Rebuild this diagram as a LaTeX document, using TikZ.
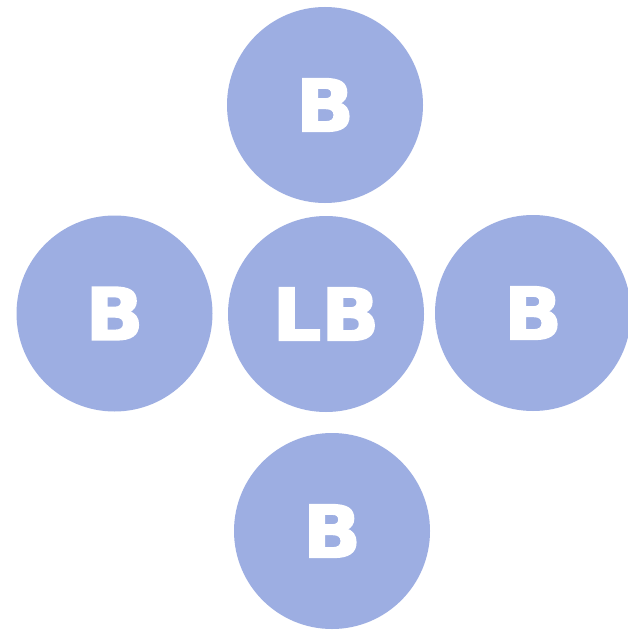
\documentclass[tikz,border=0pt]{standalone}
\usepackage{fontspec}
\newfontfamily\labelfont[FakeBold=2.5,FakeStretch=1.06]{DejaVu Sans}
\definecolor{ballblue}{RGB}{157,174,226}
\begin{document}
\begin{tikzpicture}[x=1pt,y=-1pt,
  ball/.style={circle,fill=ballblue,minimum size=196pt,inner sep=0pt,
    text=white,font=\labelfont\bfseries\fontsize{72}{72}\selectfont}]
\useasboundingbox[fill=white] (0,0) rectangle (627,631);
\node[ball] (top) at (325,105) {\raisebox{-3pt}{B}};
\node[ball] (left) at (114.5,313.5) {\raisebox{-3pt}{B}};
\node[ball] (center) at (326,314) {\raisebox{-3pt}{LB}};
\node[ball] (right) at (533,313) {\raisebox{-3pt}{B}};
\node[ball] (bottom) at (332,531) {\raisebox{-3pt}{B}};
\end{tikzpicture}
\end{document}
